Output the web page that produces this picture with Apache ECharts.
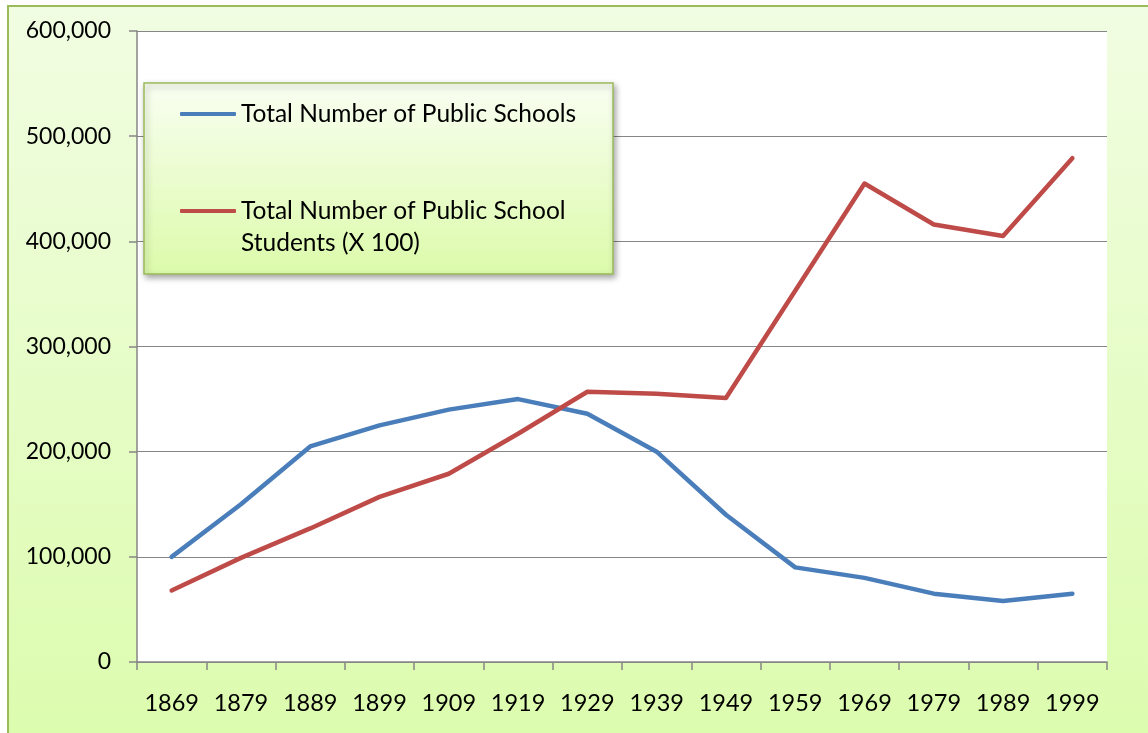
<!DOCTYPE html>
<html><head><meta charset="utf-8">
<script src="https://cdn.jsdelivr.net/npm/echarts@6/dist/echarts.min.js"></script>
<style>html,body{margin:0;padding:0;background:#fff}#c{width:1148px;height:733px}</style>
</head><body><div id="c"></div>
<script>
const years = ['1869','1879','1889','1899','1909','1919','1929','1939','1949','1959','1969','1979','1989','1999'];
const schools = [100000,150000,205000,225000,240000,250000,236000,200000,140000,90000,80000,65000,58000,65000];
const students = [68000,99000,127000,157000,179000,217000,257000,255000,251000,353000,455000,416000,405000,479000];
const seriesNames = ['Total Number of Public Schools','Total Number of Public School Students (X 100)'];
const legendLabels = {
  'Total Number of Public Schools':'Total Number of Public Schools',
  'Total Number of Public School Students (X 100)':'\nTotal Number of Public School\nStudents (X 100)'
};

const chart = echarts.init(document.getElementById('c'));
const font = 'Lato, "Open Sans", sans-serif';
chart.setOption({
  animation:false,
  graphic:[
    {type:'rect', z:-10, shape:{x:8,y:6,width:1200,height:800},
     style:{fill:new echarts.graphic.LinearGradient(0,0,0,1,[{offset:0,color:'#f1fde2'},{offset:1,color:'#dafca9'}]), stroke:'#9bbb59', lineWidth:2}},
    {type:'rect', z:-9, shape:{x:137,y:31,width:970,height:631}, style:{fill:'#ffffff'}},
    {type:'rect', z:50, shape:{x:144,y:83,width:469,height:191},
     style:{fill:new echarts.graphic.LinearGradient(0,0,0,1,[{offset:0,color:'#f9fef2'},{offset:1,color:'#dcfbaa'}]), stroke:'#9bbb59', lineWidth:1.5,
       shadowBlur:6, shadowOffsetX:2, shadowOffsetY:3, shadowColor:'rgba(0,0,0,0.35)'}}
  ],
  grid:{left:137,right:41,top:31,bottom:71,containLabel:false},
  legend:[
    {data:[seriesNames[0]], left:180, top:98, padding:0, z:60, itemWidth:56, itemHeight:4, itemGap:0, icon:'roundRect',
     formatter:n=>legendLabels[n], textStyle:{fontFamily:font,fontSize:24.5,color:'#000',lineHeight:32}},
    {data:[seriesNames[1]], left:180, top:163, padding:0, z:60, itemWidth:56, itemHeight:4, itemGap:0, icon:'roundRect',
     formatter:n=>legendLabels[n], textStyle:{fontFamily:font,fontSize:24.5,color:'#000',lineHeight:32}}
  ],
  xAxis:{type:'category', data:years, boundaryGap:true,
    axisLine:{lineStyle:{color:'#868686',width:1.5}},
    axisTick:{show:true,interval:0,length:8,alignWithLabel:false,lineStyle:{color:'#868686',width:1.5}},
    axisLabel:{interval:0,fontFamily:font,fontSize:23.5,color:'#000',margin:29}},
  yAxis:{type:'value', min:0, max:600000, interval:100000,
    axisLine:{show:true,lineStyle:{color:'#868686',width:1.5}},
    axisTick:{show:true,inside:false,length:8,lineStyle:{color:'#868686',width:1.5}},
    splitLine:{lineStyle:{color:'#868686',width:1.2}},
    axisLabel:{fontFamily:font,fontSize:23,color:'#000',margin:26,
      formatter:v=>v.toLocaleString('en-US')}},
  series:[
    {name:seriesNames[0], type:'line', data:schools, showSymbol:false, symbol:'none',
     lineStyle:{color:'#4a7ebb',width:4.5,cap:'round',join:'round'}, itemStyle:{color:'#4a7ebb'}},
    {name:seriesNames[1], type:'line', data:students, showSymbol:false, symbol:'none',
     lineStyle:{color:'#be4b48',width:4.5,cap:'round',join:'round'}, itemStyle:{color:'#be4b48'}}
  ]
});
</script></body></html>
